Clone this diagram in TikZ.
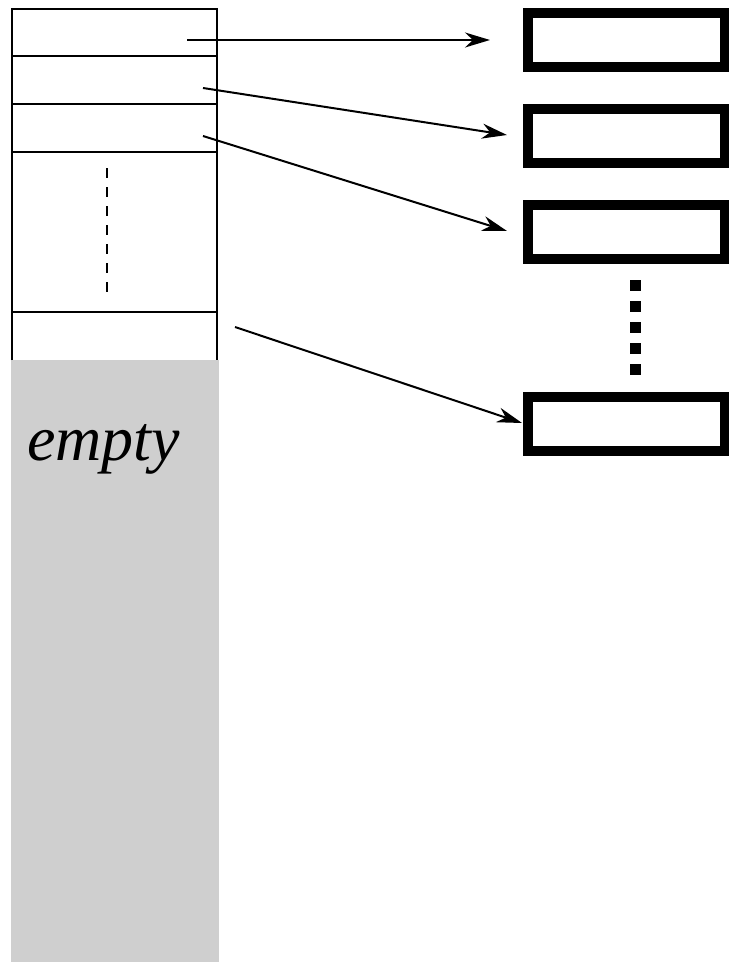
\documentclass[tikz,border=0pt]{standalone}
\usepackage{fontspec}
\setmainfont{Liberation Serif}
\usetikzlibrary{arrows.meta}
\begin{document}
\begin{tikzpicture}[x=1pt,y=-1pt,
  cell/.style={line width=2pt},
  ptrbox/.style={draw,line width=10pt,outer sep=0pt,minimum width=197pt,minimum height=54pt,inner sep=0pt,anchor=north west},
  ptr/.style={line width=2pt,-{Stealth[length=25pt,width=15pt,inset=8pt]}},
  gap/.style={line width=2pt,dash pattern=on 10pt off 9pt},
  dots/.style={line width=11pt,dash pattern=on 11pt off 10pt}]
\useasboundingbox (0,0) rectangle (728,963);
% left column
\fill[black!19] (11,360) rectangle (219,962);
\draw[cell] (12,360) -- (12,9) -- (217,9) -- (217,360);
\foreach \yy in {56,104,152,312} \draw[cell] (12,\yy) -- (217,\yy);
\draw[gap] (107,168) -- (107,292);
\node[anchor=base west,inner sep=0pt,font=\fontsize{64}{66}\selectfont\itshape] (emptylbl) at (27,460) {empty};
% right boxes
\node[ptrbox] (b1) at (528,13) {};
\node[ptrbox] (b2) at (528,109) {};
\node[ptrbox] (b3) at (528,205) {};
\node[ptrbox] (b4) at (528,397) {};
\draw[dots] (635.5,280) -- (635.5,377);
% arrows
\coordinate (s1) at (187,40);  \coordinate (t1) at (490,40);
\coordinate (s2) at (203,88);  \coordinate (t2) at (507,135);
\coordinate (s3) at (203,136); \coordinate (t3) at (507,231);
\coordinate (s4) at (235,327); \coordinate (t4) at (522,423);
\draw[ptr] (s1) -- (t1);
\draw[ptr] (s2) -- (t2);
\draw[ptr] (s3) -- (t3);
\draw[ptr] (s4) -- (t4);
\end{tikzpicture}
\end{document}
